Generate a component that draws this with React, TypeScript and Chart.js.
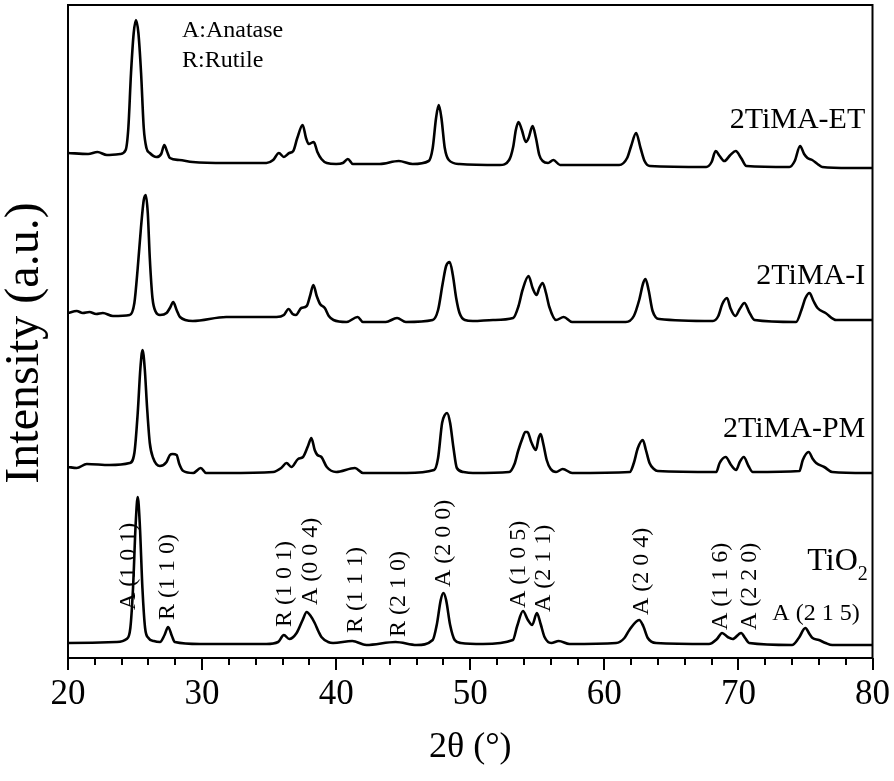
import React, { useEffect, useRef } from "react";
import { Chart, registerables } from "chart.js";
Chart.register(...registerables);

const FONT = '"Liberation Serif", "Times New Roman", serif';

// 2θ (degrees) and intensity (a.u., stacked with offsets as in the figure)
const ET_2T = [20, 21.5, 22.2, 22.9, 23.9, 24.3, 24.5, 24.7, 24.9, 25.07, 25.25, 25.45, 25.65, 25.85, 26.1, 26.6, 26.95, 27.18, 27.4, 27.6, 28.3, 29.3, 31.8, 34.8, 35.3, 35.73, 36.1, 36.5, 36.8, 37.1, 37.5, 37.75, 37.95, 38.33, 38.6, 38.9, 39.3, 40.0, 40.5, 40.87, 41.25, 43.25, 44.67, 45.7, 46.9, 47.2, 47.45, 47.65, 47.85, 48.1, 48.4, 49.2, 52.2, 52.9, 53.2, 53.4, 53.6, 53.85, 54.15, 54.35, 54.65, 54.9, 55.15, 55.4, 55.8, 56.2, 56.7, 61.1, 61.7, 62.0, 62.37, 62.7, 63.0, 63.4, 67.6, 68.0, 68.3, 68.6, 68.95, 69.4, 69.8, 70.2, 70.6, 73.8, 74.2, 74.6, 74.9, 75.15, 75.5, 75.9, 76.25, 78.3, 80];
const ET_I = [505, 504, 506, 503, 504, 508, 530, 585, 625, 638, 625, 585, 530, 510, 505, 501, 504, 513, 506, 500, 498, 496, 495, 495, 498, 505, 501, 505, 507, 520, 533, 520, 514, 516, 506, 499, 495, 494, 495, 499, 494, 494, 497, 494, 497, 510, 540, 553, 540, 510, 498, 494, 493, 498, 511, 528, 536, 528, 516, 520, 532, 520, 503, 497, 495, 498, 493, 493, 500, 512, 525, 510, 497, 492, 491, 496, 507, 502, 497, 503, 507, 500, 492, 491, 497, 512, 504, 500, 498, 494, 491, 490, 490];

const I_2T = [20, 20.65, 21.1, 21.6, 22.1, 22.6, 23.35, 24.6, 24.95, 25.2, 25.44, 25.65, 25.8, 25.95, 26.1, 26.3, 26.55, 26.86, 27.35, 27.6, 27.85, 28.1, 28.35, 29.3, 31.8, 33.3, 35.55, 36.1, 36.45, 36.75, 37.0, 37.4, 37.8, 38.05, 38.3, 38.55, 38.8, 39.15, 39.45, 39.8, 40.77, 41.6, 42.0, 43.7, 44.54, 45.2, 47.2, 47.6, 47.95, 48.2, 48.47, 48.7, 48.95, 49.2, 49.6, 50.2, 51.7, 53.2, 53.6, 53.9, 54.35, 54.65, 54.95, 55.15, 55.4, 55.65, 55.9, 56.4, 56.97, 57.6, 61.6, 62.2, 62.6, 62.9, 63.07, 63.3, 63.6, 64.1, 68.1, 68.5, 68.8, 69.15, 69.4, 69.77, 70.1, 70.45, 70.8, 71.2, 74.3, 74.7, 75.0, 75.3, 75.6, 75.9, 76.5, 77.3, 80];
const I_I = [345, 347, 345, 346, 344, 345, 342, 343, 355, 390, 430, 458, 463, 445, 400, 360, 346, 343, 345, 350, 356, 348, 341, 337, 341, 341, 341, 343, 349, 344, 343, 350, 352, 362, 373, 362, 354, 350, 342, 338, 336, 341, 336, 336, 340, 336, 338, 348, 375, 392, 396, 383, 360, 345, 338, 337, 338, 340, 352, 368, 382, 370, 363, 370, 375, 365, 351, 338, 341, 336, 336, 342, 358, 375, 379, 368, 347, 339, 337, 342, 354, 360, 350, 342, 349, 355, 346, 338, 336, 348, 360, 365, 357, 350, 345, 338, 338];

const PM_2T = [20, 20.65, 21.4, 23.1, 24.6, 24.95, 25.2, 25.4, 25.56, 25.72, 25.9, 26.1, 26.35, 26.85, 27.35, 27.6, 27.8, 28.1, 28.3, 28.6, 29.34, 29.9, 30.3, 31.8, 35.3, 35.9, 36.3, 36.66, 37.16, 37.53, 37.9, 38.15, 38.4, 38.6, 38.9, 39.3, 40.0, 41.4, 42.0, 44.24, 45.24, 47.3, 47.6, 47.9, 48.1, 48.27, 48.5, 48.75, 49.0, 49.5, 50.2, 52.9, 53.3, 53.57, 53.9, 54.1, 54.27, 54.55, 54.9, 55.1, 55.25, 55.45, 55.7, 56.0, 56.4, 56.9, 57.6, 61.9, 62.2, 62.5, 62.87, 63.1, 63.37, 63.7, 63.98, 68.35, 68.6, 69.05, 69.45, 69.83, 70.1, 70.4, 70.75, 71.07, 74.55, 74.8, 75.24, 75.55, 75.8, 76.4, 77.0, 79.5, 80];
const PM_I = [191, 190, 194, 193, 195, 205, 245, 290, 308, 290, 250, 215, 200, 192, 196, 203, 204, 203, 194, 187, 185, 190, 185, 185, 186, 190, 195, 191, 199, 201, 212, 220, 208, 203, 201, 191, 186, 190, 185, 185, 185, 188, 200, 235, 243, 245, 235, 210, 190, 186, 185, 186, 194, 207, 220, 226, 226, 216, 208, 220, 224, 214, 198, 189, 186, 189, 185, 186, 195, 210, 218, 208, 195, 189, 187, 186, 195, 201, 193, 188, 196, 201, 192, 186, 187, 198, 206, 199, 195, 191, 186, 185, 185];

const TIO2_2T = [20, 23.6, 24.37, 24.65, 24.85, 25.05, 25.2, 25.35, 25.55, 25.75, 26.0, 26.4, 26.86, 27.2, 27.47, 27.75, 27.97, 29.84, 34.8, 35.67, 36.1, 36.5, 37.05, 37.5, 37.8, 38.1, 38.4, 38.7, 38.9, 39.4, 39.77, 41.2, 42.25, 44.43, 46.0, 47.2, 47.5, 47.8, 48.0, 48.2, 48.5, 48.84, 49.3, 50.95, 53.18, 53.5, 53.93, 54.3, 54.62, 54.97, 55.25, 55.54, 56.04, 56.6, 57.4, 60.88, 61.5, 61.87, 62.6, 62.9, 63.24, 63.86, 67.8, 68.4, 68.78, 69.2, 69.57, 70.2, 70.5, 70.8, 74.0, 74.5, 74.99, 75.3, 75.53, 76.0, 76.5, 77.0, 79.76, 80];
const TIO2_I = [15, 16, 19, 30, 70, 135, 161, 135, 70, 30, 20, 17, 16, 23, 31, 22, 16, 14, 14, 16, 23, 19, 25, 38, 46, 42, 35, 26, 21, 16, 15, 17, 13, 16, 13, 18, 33, 58, 65, 58, 33, 18, 15, 14, 18, 32, 47, 38, 33, 45, 34, 21, 15, 17, 14, 15, 20, 28, 38, 32, 20, 15, 14, 19, 25, 21, 19, 25, 20, 15, 13, 20, 30, 24, 20, 18, 15, 13, 13, 13];

const SERIES_NAMES = ["2TiMA-ET", "2TiMA-I", "2TiMA-PM", "TiO2"];
const X_TICKS = [20, 30, 40, 50, 60, 70, 80];

// Annotations (text, anchor in data units)
const PEAK_LABELS: [string, number, number][] = [
  ["A (1 0 1)", 24.5, 48],
  ["R (1 1 0)", 27.45, 38],
  ["R (1 0 1)", 36.17, 31],
  ["A (0 0 4)", 38.1, 53],
  ["R (1 1 1)", 41.46, 25],
  ["R (2 1 0)", 44.66, 21],
  ["A (2 0 0)", 48.0, 71],
  ["A (1 0 5)", 53.6, 50],
  ["A (2 1 1)", 55.47, 46],
  ["A (2 0 4)", 62.77, 43],
  ["A (1 1 6)", 68.66, 28],
  ["A (2 2 0)", 70.82, 28],
];
const HORIZ_LABEL: [string, number, number] = ["A (2 1 5)", 72.53, 38];
const SERIES_LABEL_POS: [number, number][] = [
  [79.46, 530],
  [79.46, 374],
  [79.46, 221],
  [75.14, 88],
];
const LEGEND_TEXT = ["A:Anatase", "R:Rutile"];
const LEGEND_POS: [number, number][] = [
  [28.5, 621],
  [28.5, 591],
];

export default function App() {
  const ref = useRef<HTMLCanvasElement>(null);
  useEffect(() => {
    const canvas = ref.current;
    if (!canvas) return;
    const decor = {
      id: "decor",
      afterDraw(chart: any) {
        const ctx = chart.ctx as CanvasRenderingContext2D;
        const xs = chart.scales.x;
        const ys = chart.scales.y;
        const a = chart.chartArea;
        ctx.save();
        // frame
        ctx.strokeStyle = "#000";
        ctx.lineWidth = 2;
        ctx.strokeRect(a.left, a.top, a.right - a.left, a.bottom - a.top);
        // minor ticks
        for (let v = 22; v < 80; v += 2) {
          if (v % 10 === 0) continue;
          const px = Math.round(xs.getPixelForValue(v));
          ctx.beginPath();
          ctx.moveTo(px, a.bottom);
          ctx.lineTo(px, a.bottom + 7);
          ctx.stroke();
        }
        ctx.fillStyle = "#000";
        // peak labels (rotated)
        ctx.font = `24px ${FONT}`;
        ctx.textAlign = "left";
        ctx.textBaseline = "middle";
        for (const [t, x, y] of PEAK_LABELS) {
          ctx.save();
          ctx.translate(xs.getPixelForValue(x), ys.getPixelForValue(y));
          ctx.rotate(-Math.PI / 2);
          ctx.fillText(t, 0, 0);
          ctx.restore();
        }
        ctx.textBaseline = "alphabetic";
        ctx.fillText(HORIZ_LABEL[0], xs.getPixelForValue(HORIZ_LABEL[1]), ys.getPixelForValue(HORIZ_LABEL[2]));
        // legend text
        ctx.font = `24px ${FONT}`;
        LEGEND_TEXT.forEach((t, i) => {
          ctx.fillText(t, xs.getPixelForValue(LEGEND_POS[i][0]), ys.getPixelForValue(LEGEND_POS[i][1]));
        });
        // series labels
        ctx.font = `30px ${FONT}`;
        ctx.textAlign = "right";
        for (let i = 0; i < 3; i++) {
          ctx.fillText(SERIES_NAMES[i], xs.getPixelForValue(SERIES_LABEL_POS[i][0]), ys.getPixelForValue(SERIES_LABEL_POS[i][1]));
        }
        ctx.textAlign = "left";
        const tx = xs.getPixelForValue(SERIES_LABEL_POS[3][0]);
        const ty = ys.getPixelForValue(SERIES_LABEL_POS[3][1]);
        ctx.font = `32px ${FONT}`;
        ctx.fillText("TiO", tx, ty);
        const w = ctx.measureText("TiO").width;
        ctx.font = `20px ${FONT}`;
        ctx.fillText("2", tx + w, ty + 10);
        // axis titles
        ctx.font = `36px ${FONT}`;
        ctx.textAlign = "center";
        ctx.fillText("2θ (°)", (a.left + a.right) / 2, 757);
        ctx.save();
        ctx.translate(38, 343);
        ctx.rotate(-Math.PI / 2);
        ctx.textBaseline = "alphabetic";
        ctx.font = `48px ${FONT}`;
        ctx.fillText("Intensity (a.u.)", 0, 0);
        ctx.restore();
        ctx.restore();
      },
    };
    const mk = (xs: number[], ys: number[], label: string) => ({
      label,
      data: xs.map((x, i) => ({ x, y: ys[i] })),
      borderColor: "#000",
      borderWidth: 2.6,
      borderJoinStyle: "round" as const,
      pointRadius: 0,
      fill: false,
      cubicInterpolationMode: "monotone" as const,
    });
    const chart = new Chart(canvas, {
      type: "line",
      data: {
        datasets: [
          mk(ET_2T, ET_I, SERIES_NAMES[0]),
          mk(I_2T, I_I, SERIES_NAMES[1]),
          mk(PM_2T, PM_I, SERIES_NAMES[2]),
          mk(TIO2_2T, TIO2_I, SERIES_NAMES[3]),
        ],
      },
      options: {
        responsive: false,
        animation: false,
        layout: { padding: { left: 68, right: 21, top: 5, bottom: 0 } },
        plugins: { legend: { display: false }, tooltip: { enabled: false } },
        scales: {
          x: {
            type: "linear",
            min: 20,
            max: 80,
            afterFit: (s: any) => {
              s.height = 123;
            },
            afterBuildTicks: (s: any) => {
              s.ticks = X_TICKS.map((v) => ({ value: v }));
            },
            ticks: {
              color: "#000",
              font: { family: FONT, size: 35 },
              padding: 4,
              maxRotation: 0,
            },
            grid: {
              drawOnChartArea: false,
              drawTicks: true,
              tickLength: 12,
              color: "#000",
              lineWidth: 2,
            },
            border: { display: false },
          },
          y: { display: false, min: 0, max: 653 },
        },
      },
      plugins: [decor],
    });
    return () => chart.destroy();
  }, []);
  return (
    <div style={{ position: "absolute", left: 0, top: 0, width: 894, height: 781, background: "#fff" }}>
      <canvas ref={ref} width={894} height={781} style={{ display: "block" }} />
    </div>
  );
}
